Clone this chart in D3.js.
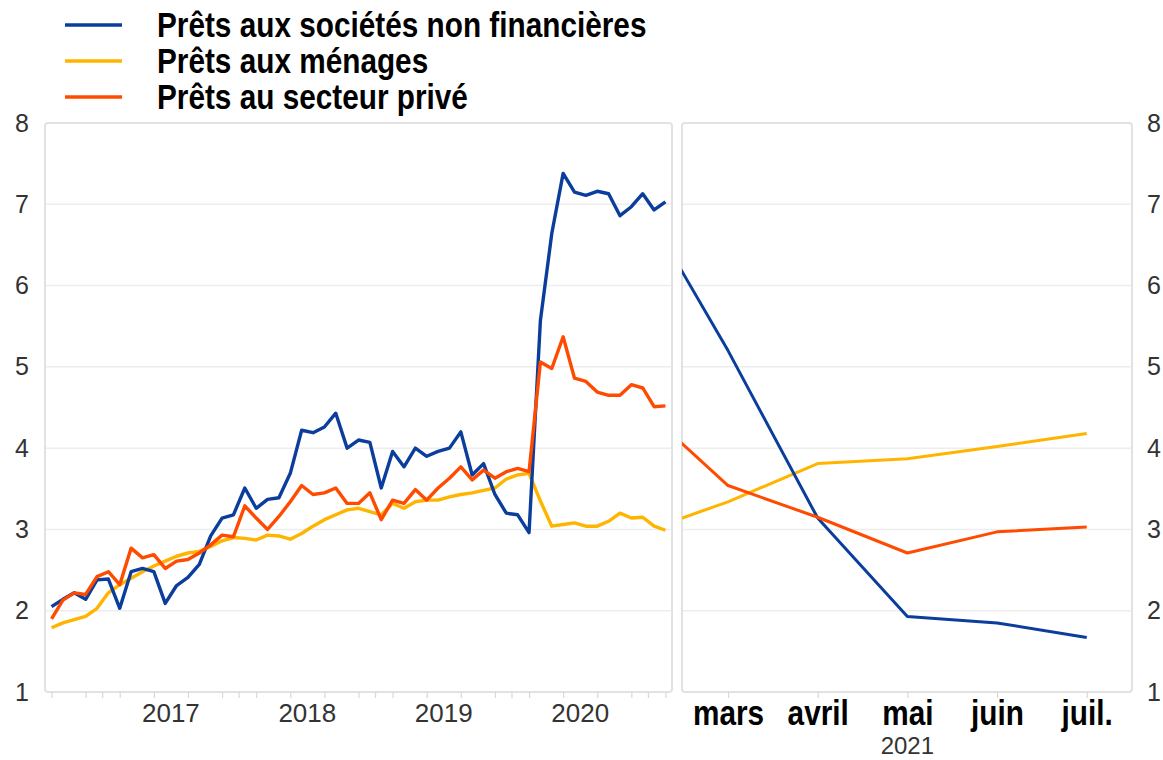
<!DOCTYPE html>
<html><head><meta charset="utf-8">
<script src="https://cdn.jsdelivr.net/npm/d3@7"></script>
<style>body{margin:0;background:#fff} svg{display:block}</style>
</head><body><svg id="c" width="1163" height="760"></svg>
<script>
// ---------- data ----------
const months = [
  "2016-08","2016-09","2016-10","2016-11","2016-12",
  "2017-01","2017-02","2017-03","2017-04","2017-05","2017-06","2017-07","2017-08","2017-09","2017-10","2017-11","2017-12",
  "2018-01","2018-02","2018-03","2018-04","2018-05","2018-06","2018-07","2018-08","2018-09","2018-10","2018-11","2018-12",
  "2019-01","2019-02","2019-03","2019-04","2019-05","2019-06","2019-07","2019-08","2019-09","2019-10","2019-11","2019-12",
  "2020-01","2020-02","2020-03","2020-04","2020-05","2020-06","2020-07","2020-08","2020-09","2020-10","2020-11","2020-12",
  "2021-01","2021-02"];
const nfc = [2.05,2.14,2.22,2.14,2.38,2.39,2.03,2.48,2.52,2.48,2.09,2.31,2.41,2.57,2.92,3.14,3.18,3.51,3.26,3.37,3.39,3.69,4.22,4.19,4.26,4.43,4.00,4.10,4.07,3.51,3.96,3.77,4.00,3.90,3.96,4.00,4.20,3.67,3.81,3.43,3.20,3.18,2.96,5.57,6.64,7.38,7.15,7.11,7.16,7.13,6.86,6.97,7.13,6.93,7.03];
const households = [1.79,1.85,1.89,1.93,2.03,2.22,2.32,2.40,2.48,2.55,2.61,2.67,2.71,2.73,2.79,2.86,2.90,2.89,2.87,2.93,2.92,2.88,2.95,3.04,3.12,3.18,3.24,3.26,3.22,3.18,3.32,3.26,3.34,3.36,3.36,3.40,3.43,3.45,3.48,3.51,3.62,3.67,3.69,3.35,3.04,3.06,3.08,3.04,3.04,3.10,3.20,3.14,3.15,3.04,2.99];
const privateSector = [1.90,2.13,2.22,2.20,2.42,2.48,2.32,2.77,2.65,2.69,2.52,2.61,2.63,2.71,2.81,2.93,2.91,3.29,3.14,3.00,3.16,3.34,3.54,3.43,3.45,3.51,3.32,3.32,3.45,3.12,3.36,3.32,3.49,3.36,3.51,3.63,3.77,3.61,3.73,3.63,3.71,3.75,3.71,5.06,4.98,5.37,4.86,4.82,4.69,4.65,4.65,4.78,4.74,4.51,4.52];

const recentMonths = ["févr.","mars","avril","mai","juin","juil."];
const recentNfc = [7.10,5.20,3.14,1.93,1.85,1.67];
const recentHouseholds = [2.95,3.34,3.81,3.87,4.02,4.18];
const recentPrivate = [4.55,3.54,3.15,2.71,2.97,3.03];
const recentYear = "2021";

const yTicks = [1,2,3,4,5,6,7,8];
const yearLabels = ["2017","2018","2019","2020"];
const seriesNames = ["Prêts aux sociétés non financières","Prêts aux ménages","Prêts au secteur privé"];
const seriesColors = ["#0b3d9c","#ffb400","#ff4b00"];

// ---------- layout ----------
const svg = d3.select("#c");
const plotTop = 123, plotBottom = 692;
const L = {x0:45, x1:672}, R = {x0:682, x1:1132};
const numFont = "'Liberation Sans', Arial, sans-serif";
const boldFont = "'Liberation Sans', Arial, sans-serif";
const condense = 0.85;  // mimic a narrow bold face
function condenseText(sel) {
  sel.each(function() {
    const w = this.getComputedTextLength();
    d3.select(this).attr("textLength", w * condense).attr("lengthAdjust", "spacingAndGlyphs");
  });
}

const y = d3.scaleLinear().domain([1,8]).range([plotBottom, plotTop]);
const xL = d3.scalePoint().domain(months).range([L.x0, L.x1]).padding(0.575);
const xR = d3.scaleLinear().domain([0.487, 5.505]).range([R.x0, R.x1]);

// panels
[L,R].forEach(p => {
  svg.append("g").selectAll("line").data(yTicks.slice(1,-1)).join("line")
    .attr("x1", p.x0).attr("x2", p.x1)
    .attr("y1", d => y(d)).attr("y2", d => y(d))
    .attr("stroke", "#ededed").attr("stroke-width", 1.5);
  svg.append("rect").attr("x", p.x0).attr("y", plotTop)
    .attr("width", p.x1 - p.x0).attr("height", plotBottom - plotTop)
    .attr("rx", 3).attr("fill", "none").attr("stroke", "#e2e2e2").attr("stroke-width", 2);
});

// y axes
const yl = svg.append("g").attr("transform", `translate(29,0)`)
  .call(d3.axisLeft(y).tickValues(yTicks).tickSize(0).tickPadding(0).tickFormat(d3.format("d")));
const yr = svg.append("g").attr("transform", `translate(1147,0)`)
  .call(d3.axisRight(y).tickValues(yTicks).tickSize(0).tickPadding(0).tickFormat(d3.format("d")));
[yl, yr].forEach(g => {
  g.select(".domain").remove();
  g.selectAll("text").attr("font-family", numFont).attr("font-size", 25).attr("fill", "#333");
});

// left x axis ticks (quarterly + year boundaries)
const qTicks = months.filter(m => ["02","05","08","11"].includes(m.slice(5)));
const xa = svg.append("g").attr("transform", `translate(0,${plotBottom})`)
  .call(d3.axisBottom(xL).tickValues(qTicks).tickSize(6).tickFormat(""));
xa.select(".domain").remove();
xa.selectAll("line").attr("stroke", "#d8d8d8").attr("stroke-width", 1.2);
const yearBounds = months.filter((m,i) => m.slice(5) === "12" && i < months.length - 1);
svg.append("g").selectAll("line").data(yearBounds).join("line")
  .attr("x1", m => (xL(m) + xL(months[months.indexOf(m)+1]))/2)
  .attr("x2", m => (xL(m) + xL(months[months.indexOf(m)+1]))/2)
  .attr("y1", plotBottom).attr("y2", plotBottom + 6)
  .attr("stroke", "#d8d8d8").attr("stroke-width", 1.2);
svg.append("g").selectAll("text").data(yearLabels).join("text")
  .attr("x", d => (xL(d + "-06") + xL(d + "-07"))/2)
  .attr("y", 722).attr("text-anchor", "middle")
  .attr("font-family", numFont).attr("font-size", 26).attr("fill", "#333")
  .text(d => d);

// right x axis
const xb = svg.append("g").attr("transform", `translate(0,${plotBottom})`)
  .call(d3.axisBottom(xR).tickValues([1,2,3,4,5]).tickSize(6).tickPadding(10)
        .tickFormat(i => recentMonths[i]));
xb.select(".domain").remove();
xb.selectAll("line").attr("stroke", "#d8d8d8").attr("stroke-width", 1.2);
xb.selectAll("text").attr("font-family", boldFont).attr("font-weight", "bold")
  .attr("font-size", 35).attr("fill", "#000").attr("dy", null).attr("y", 33)
  .call(condenseText);
svg.append("text").attr("x", xR(3)).attr("y", 754).attr("text-anchor", "middle")
  .attr("font-family", numFont).attr("font-size", 24).attr("fill", "#333").text(recentYear);

// clip for right panel
svg.append("clipPath").attr("id", "clipR").append("rect")
  .attr("x", R.x0).attr("y", plotTop).attr("width", R.x1 - R.x0).attr("height", plotBottom - plotTop);

// lines
const lineL = d3.line().x((d,i) => xL(months[i])).y(d => y(d));
const lineR = d3.line().x((d,i) => xR(i)).y(d => y(d));
const leftSeries = [[households,1],[nfc,0],[privateSector,2]];
const rightSeries = [[recentHouseholds,1],[recentNfc,0],[recentPrivate,2]];
leftSeries.forEach(([vals,c]) => {
  svg.append("path").attr("d", lineL(vals)).attr("fill", "none")
    .attr("stroke", seriesColors[c]).attr("stroke-width", 3.4).attr("stroke-linejoin", "round");
});
const gR = svg.append("g").attr("clip-path", "url(#clipR)");
rightSeries.forEach(([vals,c]) => {
  gR.append("path").attr("d", lineR(vals)).attr("fill", "none")
    .attr("stroke", seriesColors[c]).attr("stroke-width", 3).attr("stroke-linejoin", "round");
});

// legend
const lg = svg.append("g").selectAll("g").data(seriesNames).join("g")
  .attr("transform", (d,i) => `translate(0,${[25,61,97][i]})`);
lg.append("line").attr("x1", 65).attr("x2", 122).attr("y1", 0).attr("y2", 0)
  .attr("stroke", (d,i) => seriesColors[i]).attr("stroke-width", 3.5);
lg.append("text").attr("x", 157).attr("y", 12)
  .attr("font-family", boldFont).attr("font-weight", "bold").attr("font-size", 35).attr("fill", "#000")
  .text(d => d).call(condenseText);
</script></body></html>
